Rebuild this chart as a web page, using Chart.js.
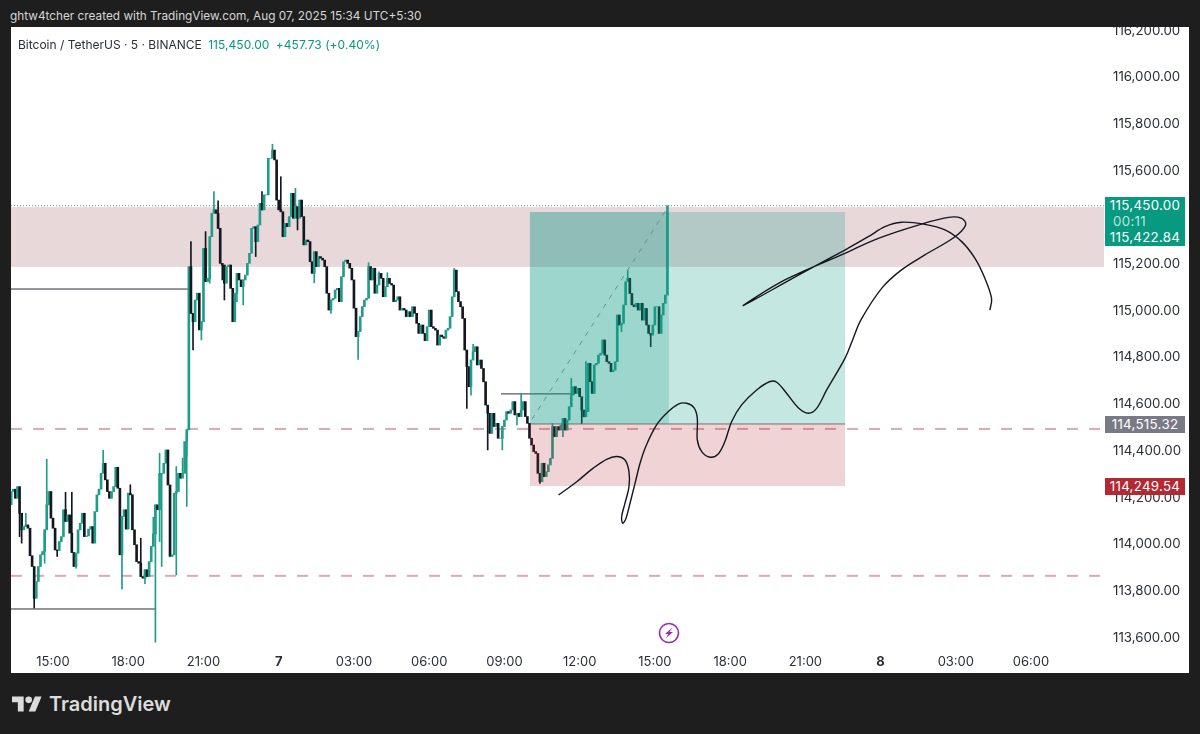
<!DOCTYPE html>
<html>
<head>
<meta charset="utf-8">
<title>BTCUSDT 5m</title>
<script src="https://cdn.jsdelivr.net/npm/chart.js@4/dist/chart.umd.min.js"></script>
<style>
    html, body { margin: 0; padding: 0; width: 1200px; height: 734px; overflow: hidden; background: #1e1e1e; font-family: Inter, "Noto Sans", sans-serif; }
    .abs { position: absolute; white-space: nowrap; }
    #panel { left: 11px; top: 27px; width: 1178px; height: 646px; background: #fff; }
    #chart { position: absolute; left: 11px; top: 27px; }
    #credit { left: 10px; top: 8px; font-size: 11.8px; line-height: 16px; color: #d6d6d6; }
    #legend { left: 18px; top: 37px; font-size: 12px; line-height: 16px; color: #2a2e39; }
    #legend span { color: #089981; margin-left: 3px; letter-spacing: .05px; }
    .tag { left: 1105px; width: 80px; text-align: center; color: #fff; font-size: 13.3px; letter-spacing: .3px; }
    #tagLast { top: 197px; height: 49px; background: #089981; }
    #tagLast div { line-height: 15.5px; }
    #tagLast .timer { color: #bfe6de; text-align: left; padding-left: 8px; }
    #tagEntry { top: 416px; height: 17px; line-height: 17px; background: #787b86; }
    #tagStop { top: 478px; height: 17px; line-height: 17px; background: #b22833; }
    #brand { left: 49px; top: 690px; font-size: 20px; line-height: 28px; font-weight: 600; color: #dcdcdc; }
</style>
</head>
<body>
<div id="panel" class="abs"></div>
<canvas id="chart" width="1178" height="646"></canvas>
<div id="credit" class="abs">ghtw4tcher created with TradingView.com, Aug 07, 2025 15:34 UTC+5:30</div>
<div id="legend" class="abs">Bitcoin / TetherUS · 5 · BINANCE <span>115,450.00</span> <span>+457.73 (+0.40%)</span></div>
<div id="tagLast" class="abs tag">
    <div style="margin-top:1px">115,450.00</div>
    <div class="timer">00:11</div>
    <div style="margin-top:1px">115,422.84</div>
</div>
<div id="tagEntry" class="abs tag">114,515.32</div>
<div id="tagStop" class="abs tag">114,249.54</div>
<svg class="abs" style="left:658px;top:622px" width="22" height="22" viewBox="0 0 22 22">
    <circle cx="11" cy="11" r="9.5" fill="none" stroke="#9c27b0" stroke-width="1.6"/>
    <path d="M14.5 5.5 L7 12 H10.5 L7.5 16.5 L15 10 H11.5 Z" fill="#9c27b0"/>
</svg>
<svg class="abs" style="left:12px;top:696px" width="30" height="16" viewBox="0 4 36 18">
    <path d="M14 22H7V11H0V4h14v18zM28 22h-8l7.5-18h8L28 22z" fill="#dcdcdc"/>
    <circle cx="20" cy="8" r="4" fill="#dcdcdc"/>
</svg>
<div id="brand" class="abs">TradingView</div>

<script>
/* --- data ---------------------------------------------------------------- */
// x axis counts 5 minute bars, bar 0 is the 15:00 candle on the 6th
const firstBar = -20;
const axisBars = [-20.1, 502.9];
const axisPrices = [113556, 116215];

const closesA = [
    114226, 114236, 114197, 114247, 114133, 114062, 114076, 114083, 114069, 113951,
    113905, 113769, 113841, 113905, 113955, 113969, 114062, 114169, 114226,
    114112, 114069, 113976, 113973, 114012, 114033, 114148, 114098, 114126,
    114048, 113965, 113905, 113962, 114062, 114090, 114133, 114033, 114036, 114065,
    114076, 114005, 114140, 114212, 114236, 114304, 114347, 114276, 114226,
    114197, 114226, 114247, 114330, 114240, 113955, 114119, 114148, 114065, 114219,
    114212, 114062, 113998, 113926, 113919, 113862, 113855, 113891, 113862,
    113926, 113991, 114045, 114169, 114148, 114304, 114304, 114347, 114404,
    114254, 113948, 113955, 114219, 114226, 114304, 114283, 114304, 114440, 114490
];
const closesB = [
    115189, 114989, 114953, 115046, 115075, 114918, 114953, 115267, 115125,
    115139, 115317, 115417, 115432, 115417, 115353, 115203, 115196, 115118, 115189,
    115196, 115096, 114953, 115075, 115160, 115132, 115103, 115132, 115153, 115203,
    115246, 115353, 115360, 115296, 115367, 115460, 115432, 115496, 115496, 115653,
    115653, 115688, 115646, 115474, 115432, 115424, 115317, 115374, 115360,
    115403, 115503, 115396, 115446, 115396, 115474, 115403, 115282, 115303,
    115296, 115210, 115160, 115253, 115189, 115232, 115225, 115217, 115189,
    115075, 115003, 115046, 115053, 115089, 115096, 115039, 115146, 115210, 115217,
    115203, 115182, 115132, 115011, 114889, 114911, 114975, 115018, 115046, 115053,
    115189, 115132, 115182, 115075, 115110, 115160
];
const closesC = [
    115139, 115060, 115103, 115139, 115117, 115110, 115039, 115046, 115060, 115003,
    115010, 115003, 114975, 114996, 114975, 115017, 114989, 114946, 114903,
    114939, 114903, 114872, 114932, 115003, 114932, 114925, 114917, 114853, 114896,
    114889, 114882, 114917, 114925, 114975, 115060, 115174, 115082, 115039, 115017,
    114967, 114832, 114761, 114675, 114789, 114825, 114846, 114768, 114789, 114753,
    114696, 114596, 114561, 114475, 114561, 114504, 114518, 114454,
    114454, 114504, 114532, 114568, 114561, 114575, 114611, 114554, 114561, 114547,
    114575, 114611, 114547, 114518
];
const closesD = [
    114454, 114425, 114397, 114389, 114304, 114268, 114347, 114290, 114311, 114340,
    114368, 114504, 114461, 114504, 114489, 114511, 114539, 114489, 114532, 114589,
    114639, 114675, 114646, 114668, 114632, 114575, 114546, 114568, 114775,
    114696, 114646, 114768, 114775, 114810, 114818, 114875, 114810, 114782,
    114775, 114739, 114746, 114782, 114982, 114939, 114946, 115025, 115124,
    115139, 115074, 115025, 115017, 115032, 115003, 115032, 114960, 115010, 114939,
    114903, 114896, 114939, 115017, 115017, 114903, 114982, 115032, 115067,
    115450
];
const firstOpen = 114170;

const highWickBars = [-13, -3, 6, 9, 24, 37, 42, 48, 51, 59, 62, 64, 66, 73, 77, 79, 100, 105, 109, 116,
    151, 156, 160, 192, 201, 224, 239, 248, 255, 275];
const highWickPrices = [114133, 114364, 114223, 114223, 114402, 114255, 114026, 114116, 114390, 114333,
    114369, 114376, 115296, 115339, 115510, 115471, 115510, 115713, 115574, 115524,
    115206, 115167, 115163, 115182, 114856, 114646, 114518, 114710, 114782, 115174];
const lowWickBars = [-16, -15, -9, -4, 2, 11, 33, 44, 49, 51, 52, 59, 64, 67, 71, 75, 81, 82, 88, 91, 97,
    117, 125, 133, 146, 198, 200, 208, 215, 222, 233, 244, 253, 272, 286];
const lowWickPrices = [114033, 114005, 113727, 113919, 113948, 113898, 113808, 113831, 113581, 114012,
    113905, 113869, 114162, 114832, 114875, 115118, 115132, 115046, 115039, 115025, 115232,
    115346, 115120, 114989, 114792, 114582, 114639, 114404, 114404, 114511, 114261, 114461,
    114518, 114910, 114846];

const tickBars = [0, 36, 72, 108, 144, 180, 216, 252, 288, 324, 360, 396, 432, 468];
const tickLabels = ['15:00', '18:00', '21:00', '7', '03:00', '06:00', '09:00', '12:00', '15:00', '18:00', '21:00', '8', '03:00', '06:00'];
const priceTicks = [113600, 113800, 114000, 114200, 114400, 114600, 114800, 115000, 115200, 115400, 115600, 115800, 116000, 116200];

// resistance zone and the long position tool
const zoneTop = 115444, zoneBottom = 115188;
const lastPrice = 115450;
const targetPrice = 115422.84, entryPrice = 114515.32, stopPrice = 114249.54;
const toolStart = 228.2, toolNow = 294.7, toolEnd = 379;
const dashedLevels = [114494, 113865];

// solid levels: price, from bar, to bar
const levelPrices = [115093, 113723, 114644];
const levelFrom = [-20.1, -20.1, 214.4];
const levelTo = [65.5, 48.8, 248.3];

// the hand drawn projection
const sketchBars = [241.9, 250.6, 258.5, 264.9, 269.7, 273.7, 275.6, 275.6, 273.7, 272.1, 272.6, 274.2, 276.1, 278.5, 280.9, 283.6,
    288.8, 293.6, 299.2, 303.2, 306.7, 308.3, 308.3, 310.4, 314.4, 318.3, 321.5, 324.7, 329.5, 336.7, 343.1, 346.3,
    351, 356.6, 361.4, 365.4, 370.2, 379, 382.6, 386.6, 396.5, 406, 417.2, 431.6, 436.7, 434.8, 428.4, 414, 394.9,
    378.9, 350.2, 330.3, 358.2, 378.9, 390.1, 398.1, 406, 417.2, 426.8, 434.8, 441.1, 445.9, 449.1, 448.3];
const sketchPrices = [114211, 114268, 114326, 114364, 114376, 114361, 114311, 114247, 114176, 114119, 114090, 114112, 114176, 114261, 114347, 114418,
    114511, 114561, 114600, 114604, 114585, 114540, 114447, 114397, 114373, 114387, 114440, 114525, 114597, 114661, 114697, 114694,
    114647, 114585, 114561, 114582, 114661, 114797, 114875, 114961, 115096, 115175, 115239, 115317, 115367, 115396, 115400, 115367, 115310,
    115246, 115132, 115022, 115160, 115260, 115317, 115360, 115379, 115370, 115346, 115296, 115225, 115139, 115053, 115003];

/* --- helpers ------------------------------------------------------------- */
const UP = '#1f9d89';
const DOWN = '#14171f';

const closes = [...closesA, ...closesB, ...closesC, ...closesD];
const opens = closes.map((c, i) => (i === 0 ? firstOpen : closes[i - 1]));
const isUp = bar => closes[bar - firstBar] >= opens[bar - firstBar];

function hLine(price, from, to, color, width, dash) {
    return {
        type: 'line',
        data: [{ x: from, y: price }, { x: to, y: price }],
        borderColor: color,
        borderWidth: width,
        borderDash: dash || [],
        pointRadius: 0,
        order: 3
    };
}

function wickSet(bars, prices) {
    return {
        type: 'bar',
        grouped: false,
        barThickness: 1,
        data: bars.map((b, i) => ({ x: b, y: [prices[i], closes[b - firstBar]] })),
        backgroundColor: bars.map(b => (isUp(b) ? UP : DOWN)),
        order: 2
    };
}

/* --- shaded boxes, drawn under and over the candles ---------------------- */
function fillBox(chart, x1, x2, top, bottom, color) {
    const { x, y } = chart.scales;
    const { ctx, chartArea } = chart;
    ctx.save();
    ctx.beginPath();
    ctx.rect(chartArea.left, chartArea.top, chartArea.width, chartArea.height);
    ctx.clip();
    ctx.fillStyle = color;
    ctx.fillRect(x.getPixelForValue(x1), y.getPixelForValue(top),
        x.getPixelForValue(x2) - x.getPixelForValue(x1), y.getPixelForValue(bottom) - y.getPixelForValue(top));
    ctx.restore();
}

const boxes = {
    id: 'boxes',
    beforeDatasetsDraw(chart) {
        fillBox(chart, axisBars[0], axisBars[1], zoneTop, zoneBottom, '#e8d8da');
    },
    afterDatasetDraw(chart, args) {
        if (args.index !== 0) return;
        fillBox(chart, toolStart, toolNow, targetPrice, entryPrice, 'rgba(8,153,129,.4)');
        fillBox(chart, toolNow, toolEnd, targetPrice, entryPrice, 'rgba(8,153,129,.24)');
        fillBox(chart, toolStart, toolEnd, entryPrice, stopPrice, 'rgba(178,33,47,.2)');
    }
};

/* --- chart --------------------------------------------------------------- */
new Chart(document.getElementById('chart'), {
    type: 'bar',
    data: {
        datasets: [
            {
                type: 'bar',
                grouped: false,
                barThickness: 2,
                data: closes.map((c, i) => ({ x: firstBar + i, y: [opens[i], c] })),
                backgroundColor: closes.map((c, i) => (c >= opens[i] ? UP : DOWN)),
                order: 1
            },
            wickSet(highWickBars, highWickPrices),
            wickSet(lowWickBars, lowWickPrices),
            ...dashedLevels.map(p => hLine(p, axisBars[0], axisBars[1], '#d9aab0', 2, [11, 11])),
            hLine(lastPrice, axisBars[0], axisBars[1], '#5f9c93', 1, [1, 2]),
            ...levelPrices.map((p, i) => hLine(p, levelFrom[i], levelTo[i], '#2a2e39', 1)),
            hLine(entryPrice, toolStart, toolEnd, '#8a6a6e', 1),
            {
                type: 'line',
                data: [{ x: toolStart + 1, y: entryPrice + 20 }, { x: toolNow, y: lastPrice }],
                borderColor: '#6f8f89',
                borderWidth: 1,
                borderDash: [5, 6],
                pointRadius: 0,
                order: 0
            },
            {
                type: 'line',
                data: sketchBars.map((b, i) => ({ x: b, y: sketchPrices[i] })),
                borderColor: '#14171f',
                borderWidth: 1.4,
                tension: 0.35,
                pointRadius: 0,
                order: 0
            }
        ]
    },
    options: {
        responsive: false,
        animation: false,
        devicePixelRatio: 1,
        layout: { padding: 0 },
        plugins: { legend: { display: false }, tooltip: { enabled: false } },
        scales: {
            x: {
                type: 'linear',
                offset: false,
                min: axisBars[0],
                max: axisBars[1],
                grid: { display: false, drawTicks: false },
                border: { display: false },
                afterBuildTicks: s => { s.ticks = tickBars.map(value => ({ value })); },
                afterFit: s => { s.height = 25; s.paddingLeft = 0; s.paddingRight = 0; },
                ticks: {
                    autoSkip: false,
                    maxRotation: 0,
                    padding: 6,
                    color: '#2a2e39',
                    font: ctx => ({
                        family: 'Inter',
                        size: 13,
                        weight: ctx.tick && ctx.tick.value % 288 === 108 ? 'bold' : 'normal'
                    }),
                    callback: v => tickLabels[tickBars.indexOf(v)]
                }
            },
            y: {
                position: 'right',
                min: axisPrices[0],
                max: axisPrices[1],
                grid: { display: false, drawTicks: false },
                border: { display: false },
                afterBuildTicks: s => { s.ticks = priceTicks.map(value => ({ value })); },
                afterFit: s => { s.width = 85; s.paddingTop = 0; s.paddingBottom = 0; },
                ticks: {
                    autoSkip: false,
                    padding: 9,
                    color: '#2a2e39',
                    font: { family: 'Inter', size: 13.3 },
                    callback: v => v.toLocaleString('en-US', { minimumFractionDigits: 2 })
                }
            }
        }
    },
    plugins: [boxes]
});
</script>
</body>
</html>
